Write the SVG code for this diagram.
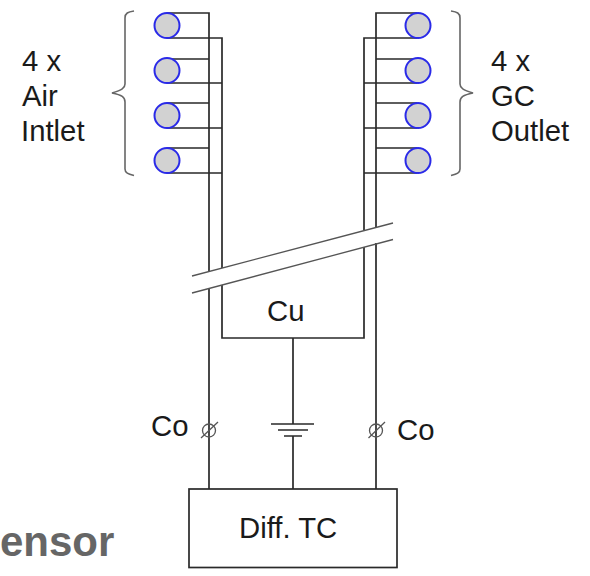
<svg xmlns="http://www.w3.org/2000/svg" width="590" height="576" viewBox="0 0 590 576">
<style>
text{font-family:"Liberation Sans",Arial,sans-serif;font-size:29.3px;fill:#1a1a1a}
.w{fill:none;stroke:#2a2a2a;stroke-width:1.7}
.b{fill:none;stroke:#666;stroke-width:1.6}
.c{fill:#d2d2d2;stroke:#2a2ae8;stroke-width:2}
.t{fill:none;stroke:#555;stroke-width:1.3}
</style>
<rect width="590" height="576" fill="#fff"/>
<g id="connectors">
<path class="w" d="M167 13H209V271M209 288V489M167 38H222V268M222 285V338H364V247M364 230V38H417M417 13H376V227M376 243V489"/>
<path class="w" d="M167 59H209M167 83H222M167 103H209M167 128H222M167 148H209M167 173H222"/>
<path class="w" d="M417 59H376M417 83H364M417 103H376M417 128H364M417 148H376M417 173H364"/>
<path class="w" d="M293 338V424M293 436V489"/>
<path class="t" d="M192 276L393 223M192 293L393 239.5"/>
<path class="w" d="M271 424H314M278 430H308M284 436H302"/>
<path class="t" d="M201 438L218 422M368.500 438L385 422"/>
</g>
<g id="air-inlet">
<circle class="c" cx="167" cy="25.500" r="12.500"/><circle class="c" cx="167" cy="70.500" r="12.500"/><circle class="c" cx="167" cy="115.500" r="12.500"/><circle class="c" cx="167" cy="160.500" r="12.500"/>
<path class="b" d="M134 11C128 12 125 13 125 18V84C125 88 122 90 112 93C122 95 125 97 125 102V169C125 173 128 174 134 175.500"/>
<text x="22" y="71">4 x</text><text x="22" y="106">Air</text><text x="21" y="141">Intlet</text>
</g>
<g id="gc-outlet">
<circle class="c" cx="418" cy="25.500" r="12.500"/><circle class="c" cx="418" cy="70.500" r="12.500"/><circle class="c" cx="418" cy="115.500" r="12.500"/><circle class="c" cx="418" cy="160.500" r="12.500"/>
<path class="b" d="M451 11C457 12 460 13 460 18V84C460 88 463 90 473 93C463 95 460 97 460 102V169C460 173 457 174 451 175.500"/>
<text x="491" y="71">4 x</text><text x="491" y="106">GC</text><text x="491" y="141">Outlet</text>
</g>
<g id="cu"><text x="267" y="321">Cu</text></g>
<g id="co-left"><circle class="t" cx="209" cy="430.500" r="6.500"/><text x="151" y="436">Co</text></g>
<g id="co-right"><circle class="t" cx="376" cy="430.500" r="6.500"/><text x="397" y="440">Co</text></g>
<g id="diff-tc"><rect class="w" x="189" y="489" width="208" height="78.500" fill="#fff"/><text x="239" y="538">Diff. TC</text></g>
<text x="0" y="556" style="font-size:42px;font-weight:bold;fill:#666">ensor</text>
</svg>
